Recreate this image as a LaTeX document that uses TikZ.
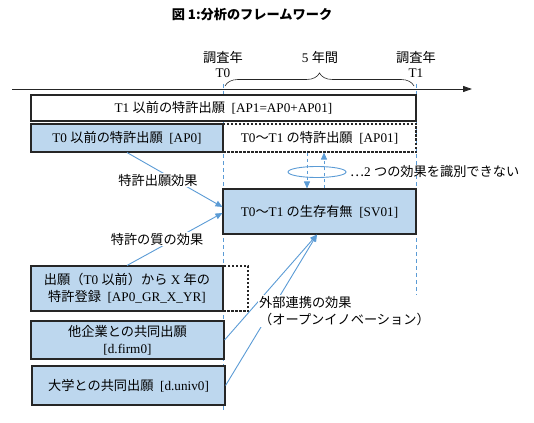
\documentclass[tikz,border=0pt]{standalone}
\usepackage{fontspec}
\setmainfont{Liberation Serif}
\newfontfamily\jp{Noto Sans CJK JP}
\usetikzlibrary{arrows.meta,calc,shapes.geometric,decorations.pathreplacing}
\definecolor{boxblue}{HTML}{BDD7EE}
\definecolor{lineblue}{HTML}{5B9BD5}
\definecolor{edge}{HTML}{262626}
\newcommand\ja[1]{{\jp #1}}
\begin{document}
\begin{tikzpicture}[x=1pt, y=-1pt, font=\fontsize{13.2}{17}\selectfont,
  box/.style={draw=edge, line width=1.1pt, fill=white, inner sep=0pt, align=center},
  bluebox/.style={box, fill=boxblue},
  dashbox/.style={box, dash pattern=on 2.5pt off 1.5pt},
  guide/.style={lineblue, dash pattern=on 4pt off 3pt, line width=0.8pt},
  conn/.style={lineblue, line width=0.9pt, -{Triangle[length=7pt,width=6pt]}},
  lbl/.style={fill=white, inner sep=1pt}]
\useasboundingbox (0,0) rectangle (534,422);
\node[font=\jp\bfseries\fontsize{13.2}{15}\selectfont] (ttl) at (252,15) {図 1:分析のフレームワーク};
\coordinate (tl0) at (12,89);
\coordinate (tl1) at (472,89);
\draw[guide] (223,84) -- (223,412);
\draw[guide] (416,84) -- (416,302);
\draw[edge, line width=0.9pt, -{Triangle[length=9pt,width=6pt]}] (tl0) -- (tl1);
\node[inner sep=0pt] (yr0) at (223,57) {\ja{調査年}};
\node[inner sep=0pt] (t0) at (223,73) {T0};
\node[inner sep=0pt] (yr1) at (416,57) {\ja{調査年}};
\node[inner sep=0pt] (t1) at (416,73) {T1};
\node[inner sep=0pt] (span) at (320,57) {5 \ja{年間}};
\draw[edge, line width=0.6pt, decorate, decoration={brace, amplitude=13pt}] (225,86) -- (414,86);
\node[box, minimum width=385pt, minimum height=26pt] (ap1) at (223.5,108) {T1 \ja{以前の特許出願}~~[AP1=AP0+AP01]};
\node[dashbox, minimum width=193pt, minimum height=28pt] (ap01) at (319.5,138) {T0\ja{〜}T1 \ja{の特許出願}~~[AP01]};
\node[bluebox, minimum width=192pt, minimum height=28pt] (ap0) at (127,138) {T0 \ja{以前の特許出願}~~[AP0]};
\node[bluebox, minimum width=193pt, minimum height=45pt] (sv01) at (319.5,211.5) {T0\ja{〜}T1 \ja{の生存有無}~~[SV01]};
\node[dashbox, minimum width=25pt, minimum height=45pt] (grext) at (235.5,288.5) {};
\node[bluebox, minimum width=192pt, minimum height=45pt] (gr) at (127,288.5) {\ja{出願（}T0 \ja{以前）から} X \ja{年の}\\\ja{特許登録}~~[AP0\_GR\_X\_YR]};
\node[bluebox, minimum width=193pt, minimum height=38pt] (firm) at (127.5,340) {\ja{他企業との共同出願}\\{[d.firm0]}};
\node[bluebox, minimum width=193pt, minimum height=39pt] (univ) at (128.5,385.5) {\ja{大学との共同出願}~~[d.univ0]};
\draw[conn, dashed] ($(ap01.south)+(-12.5,0)$) -- ($(sv01.north)+(-12.5,0)$);
\draw[conn, dashed] ($(sv01.north)+(4.5,0)$) -- ($(ap01.south)+(4.5,0)$);
\node[draw=lineblue, line width=0.9pt, ellipse, minimum width=58pt, minimum height=11pt, inner sep=0pt] (ovl) at (317,172) {};
\node[anchor=west, inner sep=0pt] (note) at (350,172) {\ja{…}2 \ja{つの効果を識別できない}};
\draw[conn] (ap0.south) -- ($(sv01.west)+(0,-4.5)$);
\draw[conn] (gr.north) -- ($(sv01.west)+(0,1.5)$);
\draw[conn] (firm.east) -- ($(sv01.south)+(-2.5,0)$);
\draw[conn] (univ.east) -- ($(sv01.south)+(-2.5,0)$);
\node[lbl] (eff1) at (158,180) {\ja{特許出願効果}};
\node[lbl] (eff2) at (157,239) {\ja{特許の質の効果}};
\node[lbl, anchor=west, align=left] (eff3) at (258,311) {\ja{外部連携の効果}\\\ja{（オープンイノベーション）}};
\end{tikzpicture}
\end{document}
